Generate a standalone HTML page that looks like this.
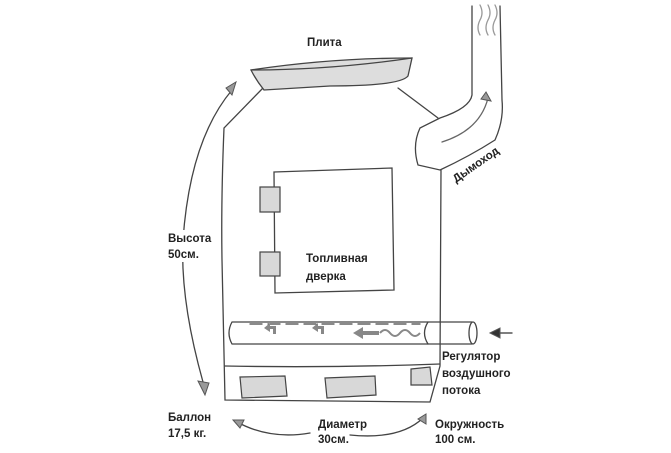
<!DOCTYPE html>
<html><head><meta charset="utf-8"><style>
html,body{margin:0;padding:0;background:#fff;}
svg{display:block}
text{font-family:"Liberation Sans",sans-serif;font-weight:bold;font-size:11.5px;fill:#222;}
</style></head><body>
<svg width="671" height="453" viewBox="0 0 671 453">
<g fill="none" stroke="#444" stroke-width="1.3" stroke-linecap="round">
<path d="M263,88 L224,128 Q221,200 222,260 L225,400 L430,402 L440,366 L441,170"/>
<path d="M398,88 L438,118"/>
<path d="M251,70 Q330,58 412,58 L408,76 Q400,86 330,86 L264,90 Q256,80 251,70 Z" fill="#ddd"/>
<path d="M251,70 Q330,70 412,58"/>
<path d="M472,6 L472,95 Q470,108 440,118 L420,128 Q412,145 418,165 L440,170 Q470,156 495,140 Q504,120 502,100 L500,6"/>
<path d="M480,5 q4,8 0,15 q-4,8 0,15 M488,5 q4,8 0,15 q-4,8 0,15 M495,5 q4,8 0,15 q-4,8 0,15" stroke="#999"/>
<path d="M442,142 Q480,130 488,98" stroke="#666"/>
<path d="M274,172 L392,168 L394,290 L275,293 Z"/>
<path d="M225,366 Q330,368 440,364"/>
<path d="M232,322 L472,322 M232,344 L472,344 M232,322 Q226,333 232,344"/>
<ellipse cx="473" cy="333" rx="4" ry="11"/>
<path d="M428,322 Q421,333 428,344"/>
<path d="M512,333 L492,333" stroke="#333"/>
<path d="M250,324 L420,324" stroke-dasharray="12,6"/>
<path d="M203,382 Q180,300 183,240 Q190,140 232,90"/>
<path d="M237,422 Q270,440 310,433 M350,435 Q400,440 423,418"/>
</g>
<g fill="#999" stroke="#555" stroke-width="1">
<path d="M226,88 L236,82 L232,95 Z"/>
<path d="M205,395 L198,381 L209,383 Z"/>
<path d="M486,92 L491,101 L481,99 Z"/>
<path d="M233,420 L244,420 L240,428 Z"/>
<path d="M426,414 L426,424 L418,419 Z"/>
<path d="M490,333 L500,328 L500,338 Z" fill="#333"/>
<path d="M264,328 l6,-5 v3 h6 v8 h-3 v-5 h-3 v3 z M312,328 l6,-5 v3 h6 v8 h-3 v-5 h-3 v3 z M353,333 l10,-6 v4 h16 v4 h-16 v4 z" fill="#888" stroke="none"/>
</g>
<path d="M380,333 q5,-6 10,0 q5,6 10,0 q5,-6 10,0 q5,6 10,0" fill="none" stroke="#888" stroke-width="2"/>
<g fill="#d8d8d8" stroke="#444" stroke-width="1.2">
<path d="M240,377 L285,376 L287,396 L242,398 Z"/>
<path d="M325,378 L375,376 L376,395 L327,398 Z"/>
<path d="M411,369 L430,367 L432,385 L411,385 Z"/>
<rect x="260" y="187" width="20" height="25"/>
<rect x="260" y="252" width="20" height="24"/>
</g>
<rect x="166" y="230" width="46" height="32" fill="#fff"/>
<text x="307" y="46">Плита</text>
<text x="168" y="242">Высота</text>
<text x="168" y="258">50см.</text>
<text x="306" y="262">Топливная</text>
<text x="306" y="280">дверка</text>
<text x="442" y="360">Регулятор</text>
<text x="442" y="377">воздушного</text>
<text x="442" y="394">потока</text>
<text x="168" y="421">Баллон</text>
<text x="168" y="437">17,5 кг.</text>
<text x="318" y="428">Диаметр</text>
<text x="318" y="443">30см.</text>
<text x="435" y="428">Окружность</text>
<text x="435" y="443">100 см.</text>
<text transform="translate(456,183) rotate(-35)">Дымоход</text>
</svg>
</body></html>
